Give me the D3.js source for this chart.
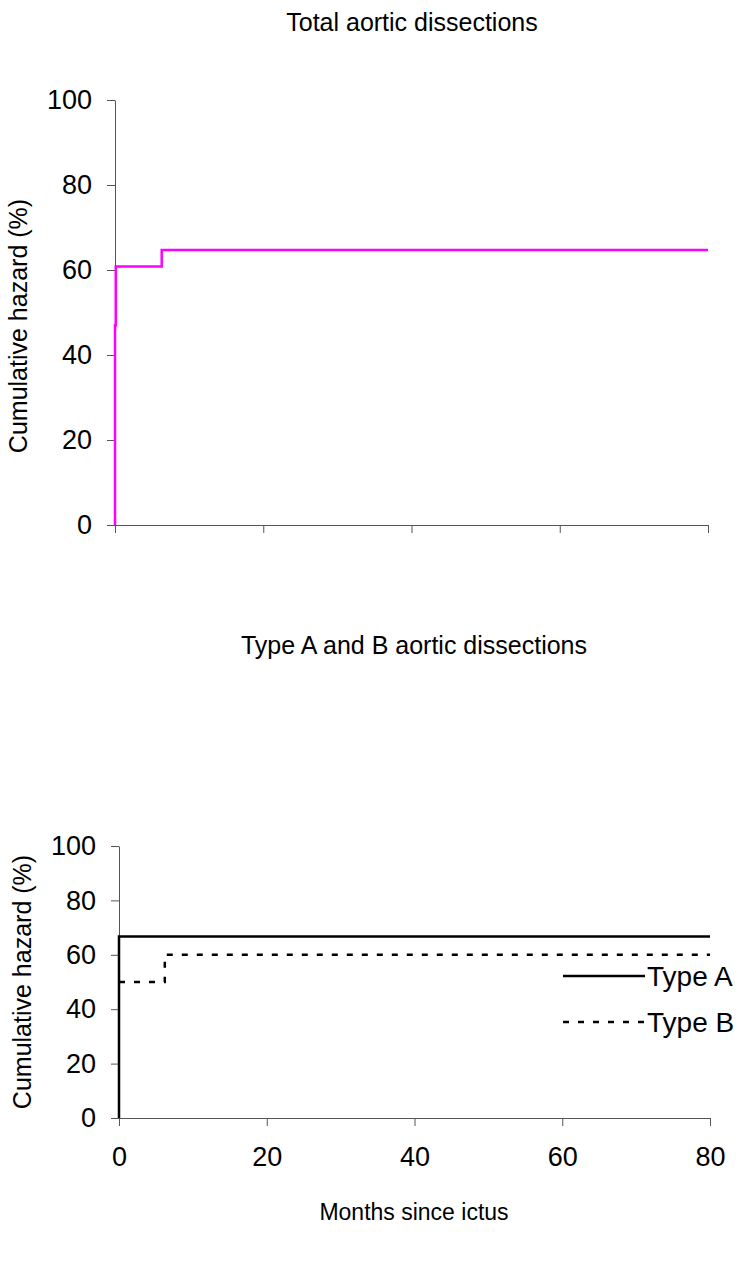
<!DOCTYPE html>
<html><head><meta charset="utf-8">
<script src="https://cdn.jsdelivr.net/npm/d3@7"></script>
<style>body{margin:0;background:#fff}svg{display:block}text{font-family:"Liberation Sans",Arial,sans-serif;fill:#000}</style>
</head><body>
<script>
// Data
const xTicks = [0, 20, 40, 60, 80];
const yTicks = [0, 20, 40, 60, 80, 100];
const totalMonths = [0, 0, 0.1, 0.1, 6.3, 6.3, 80];
const totalHazard = [0, 47, 47, 60.8, 60.8, 64.7, 64.7];
const typeAMonths = [0, 0, 80];
const typeAHazard = [0, 66.7, 66.7];
const typeBMonths = [0, 6.2, 6.2, 80];
const typeBHazard = [50, 50, 60, 60];
const legendLabels = ["Type A", "Type B"];

const W = 742, H = 1276;
const FS = 25, TICK_FS = 27;
const svg = d3.select("body").append("svg").attr("width", W).attr("height", H);

function drawPanel(o) {
  const x = d3.scaleLinear().domain([0, 80]).range([o.x0, o.x1]);
  const y = d3.scaleLinear().domain([0, 100]).range([o.y0, o.y1]);
  const g = svg.append("g");
  g.append("text").attr("x", o.titleX).attr("y", o.titleY).attr("text-anchor", "middle")
    .style("font-size", FS + "px").text(o.title);
  const ya = g.append("g").attr("transform", `translate(${o.x0},0)`)
    .call(d3.axisLeft(y).tickValues(yTicks).tickSize(8).tickPadding(15).tickSizeOuter(0));
  ya.select(".domain").attr("stroke", "#555");
  ya.selectAll(".tick line").attr("stroke", "#555");
  ya.selectAll(".tick text").style("font-size", TICK_FS + "px").style("font-family", "Liberation Sans, Arial, sans-serif").attr("fill", "#000");
  const xa = g.append("g").attr("transform", `translate(0,${o.y0})`)
    .call(d3.axisBottom(x).tickValues(xTicks).tickSize(8).tickPadding(21).tickSizeOuter(0)
      .tickFormat(o.xLabels ? d3.format("d") : () => ""));
  xa.select(".domain").attr("stroke", "#555");
  xa.selectAll(".tick line").attr("stroke", "#555");
  xa.selectAll(".tick text").style("font-size", TICK_FS + "px").style("font-family", "Liberation Sans, Arial, sans-serif").attr("fill", "#000");
  g.append("text").attr("transform", `translate(${o.ylabX},${o.ylabY}) rotate(-90)`)
    .attr("text-anchor", "middle").style("font-size", FS + "px").text("Cumulative hazard (%)");
  return {g, x, y};
}

const line = (x, y) => d3.line().x(d => x(d[0])).y(d => y(d[1]));

// Top panel
const p1 = drawPanel({x0: 115, x1: 708, y0: 525, y1: 100, title: "Total aortic dissections",
  titleX: 412, titleY: 31, ylabX: 27, ylabY: 326, xLabels: false});
p1.g.append("path").datum(d3.zip(totalMonths, totalHazard))
  .attr("d", line(p1.x, p1.y)).attr("fill", "none").attr("stroke", "#FF00FF").attr("stroke-width", 2.5);

// Bottom panel
const p2 = drawPanel({x0: 119, x1: 710, y0: 1118, y1: 846, title: "Type A and B aortic dissections",
  titleX: 414, titleY: 654, ylabX: 31, ylabY: 982, xLabels: true});
p2.g.append("path").datum(d3.zip(typeBMonths, typeBHazard))
  .attr("d", line(p2.x, p2.y)).attr("fill", "none").attr("stroke", "#000").attr("stroke-width", 2.5)
  .attr("stroke-dasharray", "6,9");
p2.g.append("path").datum(d3.zip(typeAMonths, typeAHazard))
  .attr("d", line(p2.x, p2.y)).attr("fill", "none").attr("stroke", "#000").attr("stroke-width", 2.5);
p2.g.append("text").attr("x", 414).attr("y", 1220).attr("text-anchor", "middle")
  .style("font-size", "23px").text("Months since ictus");

// Legend
const leg = p2.g.append("g");
legendLabels.forEach((lab, i) => {
  const ly = 976 + i * 46;
  leg.append("line").attr("x1", 563).attr("x2", 645).attr("y1", ly).attr("y2", ly)
    .attr("stroke", "#000").attr("stroke-width", 2.5).attr("stroke-dasharray", i ? "6,9" : null);
  leg.append("text").attr("x", 647).attr("y", ly + 10).style("font-size", "28px").text(lab);
});
</script>
</body></html>
